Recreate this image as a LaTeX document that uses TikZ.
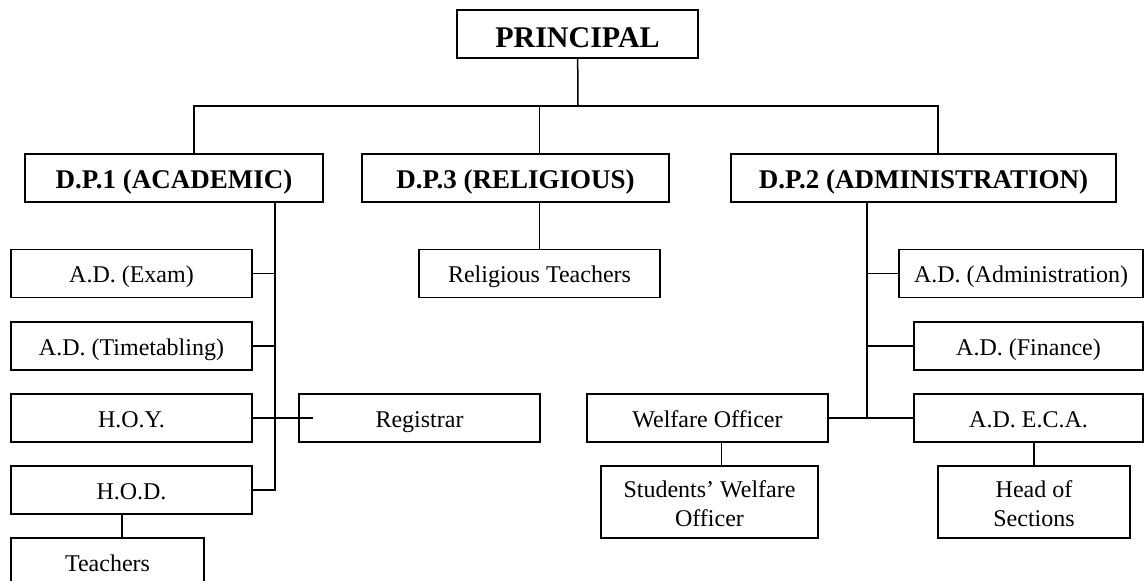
\documentclass[tikz,border=0pt]{standalone}
\usepackage{fontspec}
\setmainfont{Liberation Serif}
\begin{document}
\begin{tikzpicture}[x=0.5pt, y=-0.5pt, line width=0.75pt, line join=miter,
	box/.style={draw, inner sep=0pt, minimum height=24pt, text height=9.5pt, text depth=0pt, font=\fontsize{12}{14}\selectfont},
	tallbox/.style={draw, inner sep=0pt, minimum height=36pt, align=center, text height=24.5pt, text depth=0pt, font=\fontsize{12}{14.5}\selectfont},
	head/.style={box, text height=11pt, font=\fontsize{13.5}{15}\selectfont\bfseries}]
	\useasboundingbox (0,0) rectangle (1145,581);
	% top levels
	\node[box, minimum width=120.5pt, text height=14pt, font=\fontsize{15}{17}\selectfont\bfseries] (principal) at (577.5,34) {PRINCIPAL};
	\node[head, minimum width=149pt] (dp1) at (174,178) {D.P.1 (ACADEMIC)};
	\node[head, minimum width=153.5pt] (dp3) at (515.5,178) {D.P.3 (RELIGIOUS)};
	\node[head, minimum width=192.5pt] (dp2) at (923.5,178) {D.P.2 (ADMINISTRATION)};
	% academic side
	\node[box, minimum width=120.5pt] (adexam) at (131.5,273.5) {A.D. (Exam)};
	\node[box, minimum width=120.5pt] (adtime) at (131.5,346) {A.D. (Timetabling)};
	\node[box, minimum width=120.5pt] (hoy) at (131.5,418) {H.O.Y.};
	\node[box, minimum width=120.5pt] (hod) at (131.5,490) {H.O.D.};
	\node[box, minimum width=96.5pt] (teachers) at (107.5,562) {Teachers};
	\node[box, minimum width=120.5pt] (registrar) at (419.5,418) {Registrar};
	% religious
	\node[box, minimum width=120.5pt] (relteach) at (539.5,273.5) {Religious Teachers};
	% administration side
	\node[box, minimum width=122pt] (adadmin) at (1021,273.5) {A.D. (Administration)};
	\node[box, minimum width=114.5pt] (adfin) at (1028.5,346) {A.D. (Finance)};
	\node[box, minimum width=114.5pt] (adeca) at (1028.5,418) {A.D. E.C.A.};
	\node[box, minimum width=120.5pt] (welfare) at (707.5,418) {Welfare Officer};
	\node[tallbox, minimum width=108.5pt] (students) at (709.5,502) {Students’ Welfare\\Officer};
	\node[tallbox, minimum width=96pt] (heads) at (1034,502) {Head of\\Sections};
	% connectors
	\coordinate (bus) at (578,106);
	\coordinate (sp1) at ([xshift=50.5pt]dp1.south);
	\coordinate (sp2) at ([xshift=-28.25pt]dp2.south);
	\draw (principal) -- (bus);
	\draw ([xshift=10pt]dp1.north) |- (bus) -| ([xshift=7.25pt]dp2.north);
	\draw (relteach.north |- dp3.north) -- (relteach.north |- bus);
	\draw (relteach.north) -- (relteach.north |- dp3.south);
	\draw (sp1) |- (hod);
	\foreach \n in {adexam,adtime,hoy}
		\draw (\n.east) -- (\n.east -| sp1);
	\draw (hoy.east) -- ([xshift=7.5pt]registrar.west);
	\draw (sp2) |- (adeca);
	\foreach \n in {adadmin,adfin}
		\draw (\n.west) -- (\n.west -| sp2);
	\draw (welfare.east) -- (welfare.east -| sp2);
	\draw ([xshift=6pt]students.north) -- ([xshift=6pt]students.north |- welfare.south);
	\draw (heads.north) -- (heads.north |- adeca.south);
	\draw ([xshift=-4.75pt]hod.south) -- ([xshift=-4.75pt]hod.south |- teachers.north);
\end{tikzpicture}
\end{document}
